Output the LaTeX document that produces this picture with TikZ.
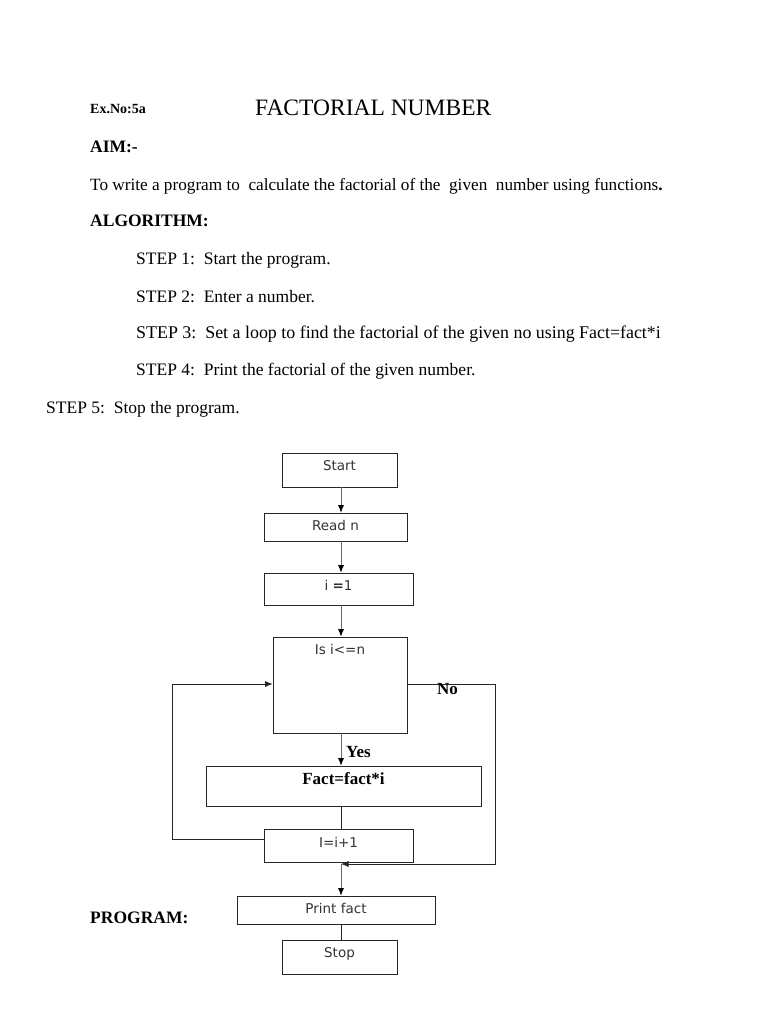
\documentclass[tikz,border=0pt]{standalone}
\usepackage{fontspec}
\setmainfont{Liberation Serif}
\newfontfamily\dejavu{DejaVu Sans}
\usetikzlibrary{arrows.meta}
\begin{document}
\begin{tikzpicture}[x=1pt,y=-1pt,
  body/.style={anchor=base west,inner sep=0pt,font=\fontsize{17.5}{20}\selectfont},
  head/.style={body,font=\fontsize{17.5}{20}\selectfont\bfseries},
  fbox/.style={draw=black!85,line width=0.8pt,inner sep=1pt,font=\dejavu\fontsize{13.5}{15}\selectfont,text=black!80,text height=9.8pt},
  conn/.style={draw=black!60,line width=0.7pt,-{Latex[length=7.5pt,width=6pt,color=black]}},
  plain/.style={draw=black!85,line width=0.7pt},
  lbl/.style={anchor=base west,inner sep=0pt,font=\fontsize{17}{20}\selectfont\bfseries}
]
\useasboundingbox (0,0) rectangle (768,1024);
\fill[white] (0,0) rectangle (768,1024);

% header text
\node[anchor=base west,inner sep=0pt,font=\fontsize{14}{16}\selectfont\bfseries] (exno) at (90,114) {Ex.No:5a};
\node[anchor=base west,inner sep=0pt,font=\fontsize{23.5}{27}\selectfont] (title) at (255,115.5) {FACTORIAL NUMBER};
\node[head] (aim) at (90,153) {AIM:-};
\node[body,font=\fontsize{17.2}{20}\selectfont] (aimtext) at (90,191) {To write a program to\ \ calculate the factorial of the\ \ given\ \ number using functions\textbf{.}};
\node[head] (algo) at (90,226) {ALGORITHM:};
\node[body] (s1) at (136,264) {STEP 1:\ \ Start the program.};
\node[body] (s2) at (136,302) {STEP 2:\ \ Enter a number.};
\node[body,font=\fontsize{17.9}{20}\selectfont] (s3) at (136,338) {STEP 3:\ \ Set a loop to find the factorial of the given no using Fact=fact*i};
\node[body] (s4) at (136,375) {STEP 4:\ \ Print the factorial of the given number.};
\node[body] (s5) at (46,413) {STEP 5:\ \ Stop the program.};
\node[head] (prog) at (90,923) {PROGRAM:};

% flowchart boxes
\node[fbox,minimum width=115pt,minimum height=34pt,text depth=9.5pt] (start) at (339.5,470) {Start};
\node[fbox,minimum width=143pt,minimum height=28pt,text depth=2.5pt] (read) at (335.5,527) {Read n};
\node[fbox,minimum width=149pt,minimum height=32pt,text depth=6.5pt] (init) at (338.5,589) {i {\bfseries =}1};
\node[fbox,minimum width=134pt,minimum height=96pt,text depth=70.5pt] (cond) at (340,685) {Is i\textless=n};
\node[fbox,minimum width=275pt,minimum height=40pt,text height=11.2pt,text depth=15pt,font=\fontsize{17}{20}\selectfont\bfseries,text=black] (fact) at (343.5,786) {Fact=fact*i};
\node[fbox,minimum width=149pt,minimum height=33pt,text depth=6.5pt] (incr) at (338.5,845.5) {I=i+1};
\node[fbox,minimum width=198pt,minimum height=28pt,text depth=3.5pt] (print) at (336,910) {Print fact};
\node[fbox,minimum width=115pt,minimum height=34pt,text depth=8.5pt] (stop) at (339.5,957) {Stop};

% junction coordinates
\coordinate (lx1) at (172,839);
\coordinate (lx2) at (172,684);
\coordinate (ny1) at (495,684);
\coordinate (ny2) at (495,864);
\coordinate (nend) at (341,864);

% connectors
\draw[conn] (start.south -| 341,0) -- (read.north -| 341,0);
\draw[conn] (read.south -| 341,0) -- (init.north -| 341,0);
\draw[conn] (init.south -| 341,0) -- (cond.north -| 341,0);
\draw[conn] (cond.south -| 341,0) -- (fact.north -| 341,0);
\draw[plain] (fact.south -| 341,0) -- (incr.north -| 341,0);
\draw[conn] (nend) -- (print.north -| 341,0);
\draw[plain] (print.south -| 341,0) -- (stop.north -| 341,0);

% loop back (left)
\draw[plain,-{Latex[length=7.5pt,width=6pt]}] (incr.west |- lx1) -- (lx1) -- (lx2) -- (cond.west |- lx2);
% exit (right)
\draw[plain,-{Latex[length=7.5pt,width=6pt]}] (cond.east |- ny1) -- (ny1) -- (ny2) -- (nend);

% labels
\node[lbl] (yes) at (346,757) {Yes};
\node[lbl] (no) at (437,694) {No};
\end{tikzpicture}
\end{document}
